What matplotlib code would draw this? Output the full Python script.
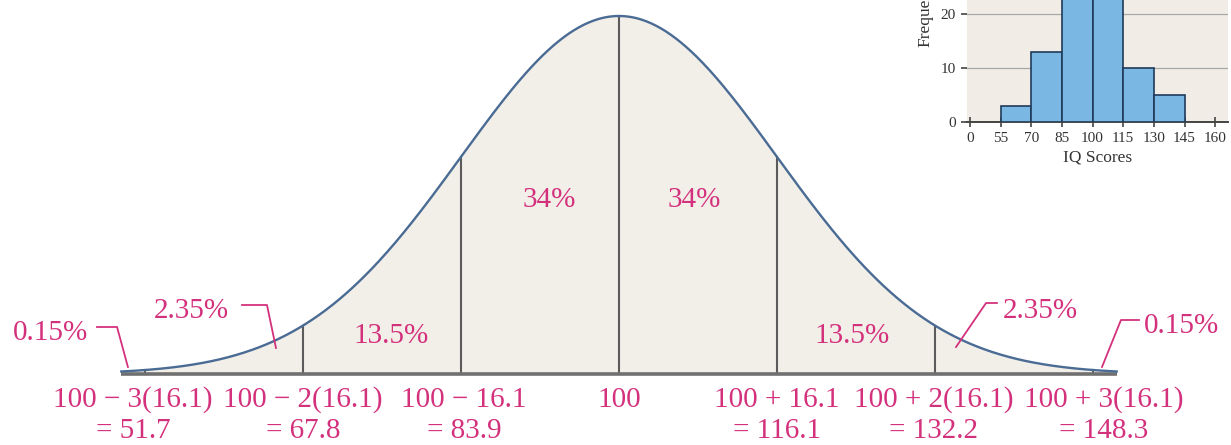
import numpy as np
import matplotlib
matplotlib.use('Agg')
import matplotlib.pyplot as plt

plt.rcParams['font.family'] = ['Liberation Serif', 'DejaVu Serif']

# data
mean = 100
sd = 16.1
cut_points = [51.7, 67.8, 83.9, 100, 116.1, 132.2, 148.3]
cut_top = ['100 \u2212 3(16.1)', '100 \u2212 2(16.1)', '100 \u2212 16.1', '100',
           '100 + 16.1', '100 + 2(16.1)', '100 + 3(16.1)']
cut_bottom = ['= 51.7', '= 67.8', '= 83.9', '', '= 116.1', '= 132.2', '= 148.3']
band_pcts = ['0.15%', '2.35%', '13.5%', '34%', '34%', '13.5%', '2.35%', '0.15%']

# inset histogram of IQ scores
bin_edges = [55, 70, 85, 100, 115, 130, 145]
counts = [3, 13, 28, 27, 10, 5]
iq_ticks = [0, 55, 70, 85, 100, 115, 130, 145, 160]
freq_ticks = [0, 10, 20]

pink = '#d4317d'
curve_col = '#4a6b94'
fill_col = '#f2efe9'
line_col = '#5b5b5b'

W, H = 1231, 445
fig = plt.figure(figsize=(W / 100, H / 100), dpi=100)
ax = fig.add_axes([0, 0, 1, 1])
ax.axis('off')

# pixel layout of the main drawing
px_mean, px_sd = 619, 158
base_px, peak_px = 374, 16
peak = 1 / (sd * np.sqrt(2 * np.pi))
px_per_unit = px_sd / sd
ax.set_xlim(mean - px_mean / px_per_unit, mean - px_mean / px_per_unit + W / px_per_unit)
scale = peak / (base_px - peak_px)
ax.set_ylim(-(H - base_px) * scale, base_px * scale)


def py(p):
    # pixel row (from top) -> data y
    return (base_px - p) * scale


def pdf(v):
    return np.exp(-0.5 * ((v - mean) / sd) ** 2) / (sd * np.sqrt(2 * np.pi))


xs = np.linspace(mean - 3.15 * sd, mean + 3.15 * sd, 600)
ax.fill_between(xs, 0, pdf(xs), color=fill_col, lw=0, zorder=1)
ax.plot(xs, pdf(xs), color=curve_col, lw=1.7, zorder=4)
ax.plot([xs[0], xs[-1]], [0, 0], color='#707070', lw=2.6, zorder=3, solid_capstyle='butt')

for c in cut_points:
    ax.plot([c, c], [0, pdf(c)], color=line_col, lw=1.5, zorder=2)

# bottom labels (outer ones sit a little outside their tick)
nudge = [-12, 0, 3, 0, 0, -1, 11]
for c, t, b, n in zip(cut_points, cut_top, cut_bottom, nudge):
    xc = c + n / px_per_unit
    ax.text(xc, py(407), t, color=pink, fontsize=21, ha='center', va='baseline')
    if b:
        ax.text(xc, py(438), b, color=pink, fontsize=21, ha='center', va='baseline')

# percentage labels: (z position, baseline pixel row)
pct_pos = [(-3.60, 340), (-2.709, 318), (-1.443, 343), (-0.443, 207),
           (0.475, 207), (1.475, 343), (2.665, 318), (3.557, 333)]
for lab, (z, p) in zip(band_pcts, pct_pos):
    ax.text(mean + z * sd, py(p), lab, color=pink, fontsize=21, ha='center', va='baseline', zorder=5)

# leader lines for the small tail percentages
leaders = [
    [(-3.304, 327), (-3.177, 327), (-3.108, 367)],
    [(-2.386, 305), (-2.228, 305), (-2.171, 348)],
    [(2.392, 303), (2.323, 303), (2.133, 347)],
    [(3.291, 320), (3.177, 320), (3.057, 367)],
]
for pts in leaders:
    ax.plot([mean + z * sd for z, _ in pts], [py(p) for _, p in pts],
            color=pink, lw=1.3, zorder=5)

# inset histogram (its top runs off the page)
left_px, right_px, axis_px = 967, 1228, 122
ax2 = fig.add_axes([left_px / W, (H - axis_px) / H, (right_px - left_px) / W, 162 / H])
ax2.set_facecolor('#f1ede6')
step = 15
ax2.bar(bin_edges[:-1], counts, width=step, align='edge', color='#7ab8e3',
        edgecolor='#1f3a5a', lw=1.2, zorder=3)
tick_pos = [bin_edges[0] - step] + iq_ticks[1:]
ax2.set_xticks(tick_pos)
ax2.set_xticklabels([str(t) for t in iq_ticks])
ax2.set_xlim(tick_pos[0] - 0.1 * step, tick_pos[0] + 8.42 * step)
ax2.set_ylim(0, 30)
ax2.set_yticks(freq_ticks)
ax2.yaxis.grid(True, color='#a8a8a8', lw=0.9)
ax2.set_axisbelow(True)
for s in ['left', 'top', 'right']:
    ax2.spines[s].set_visible(False)
ax2.spines['bottom'].set_color('#444444')
ax2.spines['bottom'].set_linewidth(1.4)
ax2.tick_params(axis='x', direction='inout', length=7, width=1.2, color='#444444',
                labelsize=11, labelcolor='#333333', pad=4)
ax2.tick_params(axis='y', direction='out', length=4, width=1.2, color='#444444',
                labelsize=11, labelcolor='#333333', pad=4)
ax2.set_xlabel('IQ Scores', fontsize=12.5, color='#333333', labelpad=3)
fig.text(925 / W, (H - 47) / H, 'Frequency', rotation=90, ha='center', va='bottom',
         fontsize=12.5, color='#333333')

fig.savefig('out.png', dpi=100)
